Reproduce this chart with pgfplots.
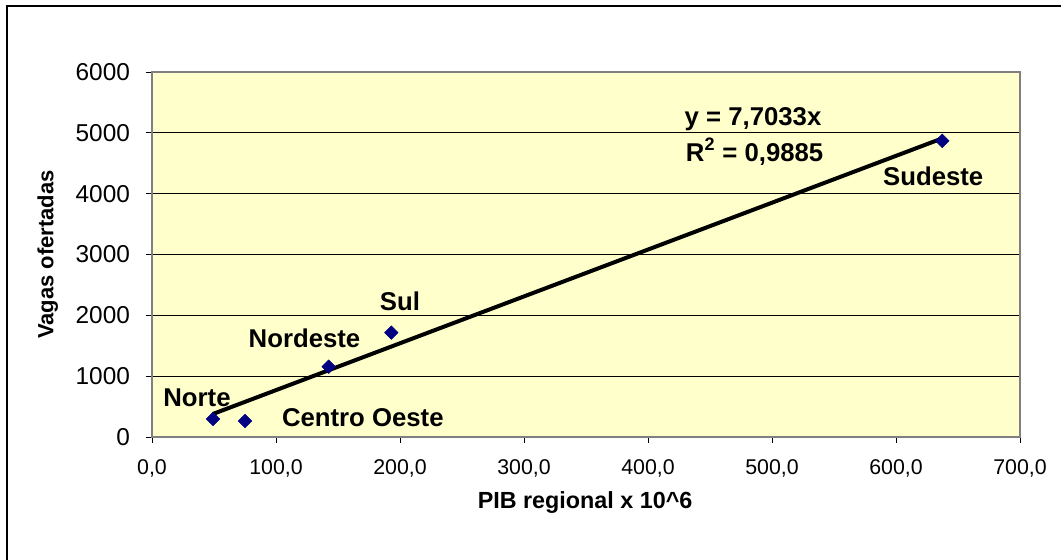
\documentclass[border=0pt]{standalone}
\usepackage{fontspec}
\setmainfont{Liberation Sans}
\usepackage{pgfplots}
\pgfplotsset{compat=1.18}
\definecolor{plotbg}{HTML}{FFFFCC}
\definecolor{navy}{HTML}{000080}
\definecolor{border}{HTML}{808080}
\newcommand\lbl{\fontsize{19.3}{22}\selectfont\bfseries}
\begin{document}
\begin{tikzpicture}
\useasboundingbox (0,0) rectangle (795.75pt,420pt);
\draw[line width=1.3pt] (5.25pt,0) -- (5.25pt,415.5pt) -- (795.75pt,415.5pt);
\begin{axis}[
    at={(114pt,92.25pt)}, anchor=south west,
    scale only axis,
    width=651pt, height=273.75pt,
    xmin=0, xmax=700, ymin=0, ymax=6000,
    xtick={0,100,...,700},
    ytick={0,1000,...,6000},
    axis background/.style={fill=plotbg},
    axis line style={draw=border, line width=1pt},
    ymajorgrids=true,
    grid style={black, line width=0.6pt},
    tick align=outside, tick pos=left,
    major tick length=4.5pt,
    tick style={black, line width=0.6pt},
    /pgf/number format/assume math mode=true,
    yticklabel style={font=\fontsize{18.3}{20}\selectfont,
        /pgf/number format/1000 sep={}, xshift=-8.5pt},
    xticklabel style={font=\fontsize{16}{18}\selectfont,
        /pgf/number format/.cd, fixed, fixed zerofill, precision=1,
        use comma, 1000 sep={}},
    xticklabel shift=9pt,
    xlabel={PIB regional x 10\^{}6},
    ylabel={Vagas ofertadas},
    xlabel style={font=\fontsize{17.5}{20}\selectfont\bfseries,
        at={(axis description cs:0.499,-0.18)}, anchor=center},
    ylabel style={font=\fontsize{16.5}{20}\selectfont\bfseries,
        at={(axis description cs:-0.12,0.5)}, anchor=center},
]
\addplot[only marks, mark=square*, mark size=3.6pt,
    mark options={rotate=45, fill=navy, draw=navy}]
    coordinates {(49.2,296) (75,263) (142.5,1156) (193,1716) (637.3,4868)};
\addplot[black, line width=3pt]
    coordinates {(49.2,379) (637.3,4909)};
\node[font=\lbl] at (axis cs:36.3,641) {Norte};
\node[font=\lbl] at (axis cs:170,312) {Centro Oeste};
\node[font=\lbl] at (axis cs:123,1628) {Nordeste};
\node[font=\lbl] at (axis cs:200,2237) {Sul};
\node[font=\lbl] at (axis cs:630,4293) {Sudeste};
\node[font=\lbl] at (axis cs:484.7,5220) {y = 7,7033x};
\node[font=\lbl] at (axis cs:486,4690) {R\textsuperscript{2} = 0,9885};
\end{axis}
\end{tikzpicture}
\end{document}
